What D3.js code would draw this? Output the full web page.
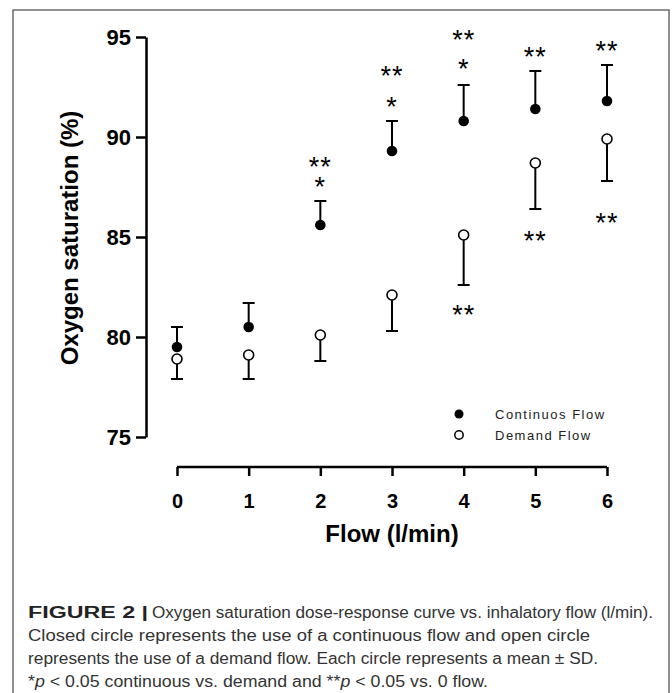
<!DOCTYPE html>
<html lang="en">
<head>
<meta charset="utf-8">
<title>Oxygen saturation vs flow</title>
<script src="https://cdn.jsdelivr.net/npm/d3@7"></script>
<style>
  body { margin: 0; background: #fff; }
  svg { display: block; }
</style>
</head>
<body>
<script>
// chart values
var flows = [0, 1, 2, 3, 4, 5, 6];
var contMean = [79.5, 80.5, 85.6, 89.3, 90.8, 91.4, 91.8];
var contSD = [1.0, 1.2, 1.2, 1.5, 1.8, 1.9, 1.8];
var demMean = [78.9, 79.1, 80.1, 82.1, 85.1, 88.7, 89.9];
var demSD = [1.0, 1.2, 1.3, 1.8, 2.5, 2.3, 2.1];
var yTicks = [75, 80, 85, 90, 95];

// significance marks: flow, level (in %), text
var starFlow = [2, 2, 3, 3, 4, 4, 4, 5, 5, 6, 6];
var starLevel = [88.8, 87.8, 93.35, 91.8, 95.15, 93.7, 81.4, 94.3, 85.1, 94.6, 86.0];
var starText = ["**", "*", "**", "*", "**", "*", "**", "**", "**", "**", "**"];

var legendLabels = ["Continuos Flow", "Demand Flow"];

var captionLines = [
  "Closed circle represents the use of a continuous flow and open circle",
  "represents the use of a demand flow. Each circle represents a mean \u00b1 SD."
];

var width = 672, height = 693;

var svg = d3.select("body").append("svg")
    .attr("width", width)
    .attr("height", height);

// frame round the figure
svg.append("rect")
    .attr("x", 13).attr("y", 10)
    .attr("width", 656).attr("height", 720)
    .attr("fill", "none")
    .attr("stroke", "#555")
    .attr("stroke-width", 1.3);

var x = d3.scaleLinear().domain([0, 6]).range([177, 607]);
var y = d3.scaleLinear().domain([75, 95]).range([437, 37]);

// y axis
var yAxis = svg.append("g")
    .attr("transform", "translate(146,0)")
    .call(d3.axisLeft(y).tickValues(yTicks).tickSize(10).tickSizeOuter(0).tickPadding(5));
yAxis.selectAll("path, line").attr("stroke", "#000").attr("stroke-width", 2.5);
yAxis.selectAll("text")
    .attr("fill", "#000")
    .style("font", "bold 22px 'Liberation Sans', Arial, sans-serif");

// x axis sits below the plot, detached
var xAxis = svg.append("g")
    .attr("transform", "translate(0,467)")
    .call(d3.axisBottom(x).tickValues(flows).tickFormat(d3.format("d")).tickSize(9).tickSizeOuter(0).tickPadding(18));
xAxis.select(".domain").attr("d", "M" + x(0) + ",0H" + x(6));
xAxis.selectAll("path, line").attr("stroke", "#000").attr("stroke-width", 2.5);
xAxis.selectAll("text")
    .attr("fill", "#000")
    .style("font", "bold 20px 'Liberation Sans', Arial, sans-serif");

// axis titles
svg.append("text")
    .attr("transform", "translate(78,238) rotate(-90)")
    .attr("text-anchor", "middle")
    .style("font", "bold 24px 'Liberation Sans', Arial, sans-serif")
    .text("Oxygen saturation (%)");

svg.append("text")
    .attr("x", 392).attr("y", 542)
    .attr("text-anchor", "middle")
    .style("font", "bold 24px 'Liberation Sans', Arial, sans-serif")
    .text("Flow (l/min)");

var cont = flows.map(function(f, i) { return {f: f, m: contMean[i], sd: contSD[i]}; });
var dem = flows.map(function(f, i) { return {f: f, m: demMean[i], sd: demSD[i]}; });

var capW = 6;

// error bars: continuous goes up, demand goes down
function bars(data, sign, cls) {
  var g = svg.append("g").attr("class", cls)
      .attr("stroke", "#000").attr("stroke-width", 2).attr("fill", "none");
  g.selectAll(".stem").data(data).enter().append("line")
      .attr("x1", function(d) { return x(d.f); })
      .attr("x2", function(d) { return x(d.f); })
      .attr("y1", function(d) { return y(d.m); })
      .attr("y2", function(d) { return y(d.m + sign * d.sd); });
  g.selectAll(".cap").data(data).enter().append("line")
      .attr("x1", function(d) { return x(d.f) - capW; })
      .attr("x2", function(d) { return x(d.f) + capW; })
      .attr("y1", function(d) { return y(d.m + sign * d.sd); })
      .attr("y2", function(d) { return y(d.m + sign * d.sd); });
}
bars(cont, 1, "cont-bars");
bars(dem, -1, "dem-bars");

svg.append("g").selectAll("circle").data(dem).enter().append("circle")
    .attr("cx", function(d) { return x(d.f); })
    .attr("cy", function(d) { return y(d.m); })
    .attr("r", 5)
    .attr("fill", "#fff").attr("stroke", "#000").attr("stroke-width", 1.6);

svg.append("g").selectAll("circle").data(cont).enter().append("circle")
    .attr("cx", function(d) { return x(d.f); })
    .attr("cy", function(d) { return y(d.m); })
    .attr("r", 5.3)
    .attr("fill", "#000");

// asterisks
var starFs = 27;
svg.append("g").selectAll("text").data(starText).enter().append("text")
    .attr("x", function(d, i) { return x(starFlow[i]); })
    .attr("y", function(d, i) { return y(starLevel[i]) + 0.57 * starFs; })
    .attr("text-anchor", "middle")
    .attr("letter-spacing", 1)
    .style("font", starFs + "px 'Liberation Sans', Arial, sans-serif")
    .text(function(d) { return d; });

// legend
var leg = svg.append("g").attr("transform", "translate(459,414)");
leg.append("circle").attr("cx", 0).attr("cy", 0).attr("r", 4.5).attr("fill", "#000");
leg.append("circle").attr("cx", 0).attr("cy", 21).attr("r", 4.2)
    .attr("fill", "#fff").attr("stroke", "#000").attr("stroke-width", 1.5);
leg.selectAll("text").data(legendLabels).enter().append("text")
    .attr("x", 36)
    .attr("y", function(d, i) { return i * 21 + 4.5; })
    .attr("fill", "#222")
    .attr("letter-spacing", 1.5)
    .style("font", "13px 'Liberation Sans', Arial, sans-serif")
    .text(function(d) { return d; });

// caption
var capFont = "16px 'Liberation Sans', Arial, sans-serif";
var lineH = 23;
var cap0 = 618;

svg.append("text")
    .attr("x", 28).attr("y", cap0)
    .attr("fill", "#222")
    .attr("textLength", 120).attr("lengthAdjust", "spacingAndGlyphs")
    .style("font", "bold " + capFont)
    .text("FIGURE 2 |");
svg.append("text")
    .attr("x", 152).attr("y", cap0)
    .attr("fill", "#333")
    .attr("textLength", 501).attr("lengthAdjust", "spacingAndGlyphs")
    .style("font", capFont)
    .text("Oxygen saturation dose-response curve vs. inhalatory flow (l/min).");

var capEnds = [590, 598];
svg.selectAll(".capline").data(captionLines).enter().append("text")
    .attr("class", "capline")
    .attr("x", 28)
    .attr("y", function(d, i) { return cap0 + (i + 1) * lineH; })
    .attr("fill", "#333")
    .attr("textLength", function(d, i) { return capEnds[i] - 28; })
    .attr("lengthAdjust", "spacingAndGlyphs")
    .style("font", capFont)
    .text(function(d) { return d; });

var last = svg.append("text")
    .attr("x", 28).attr("y", cap0 + 3 * lineH)
    .attr("fill", "#333")
    .attr("textLength", 460).attr("lengthAdjust", "spacingAndGlyphs")
    .style("font", capFont);
last.append("tspan").text("*");
last.append("tspan").style("font-style", "italic").text("p");
last.append("tspan").text(" < 0.05 continuous vs. demand and **");
last.append("tspan").style("font-style", "italic").text("p");
last.append("tspan").text(" < 0.05 vs. 0 flow.");
</script>
</body>
</html>
